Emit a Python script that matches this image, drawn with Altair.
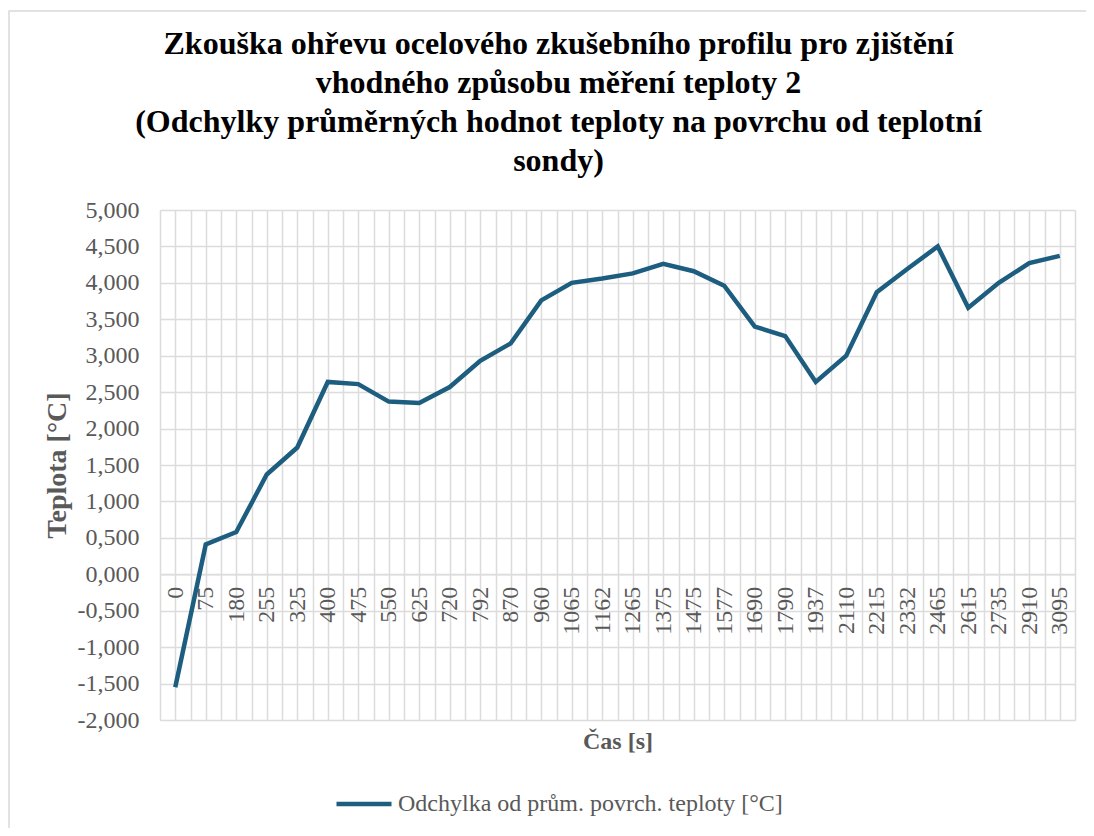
import json
import altair as alt
import pandas as pd

# ---- data ----
cas_labels = ["0", "75", "180", "255", "325", "400", "475", "550", "625", "720",
              "792", "870", "960", "1065", "1162", "1265", "1375", "1475", "1577", "1690",
              "1790", "1937", "2110", "2215", "2332", "2465", "2615", "2735", "2910", "3095"]
odchylka = [-1.55, 0.41, 0.58, 1.37, 1.74, 2.64, 2.61, 2.37, 2.35, 2.57,
            2.93, 3.17, 3.76, 4.00, 4.06, 4.13, 4.26, 4.16, 3.96, 3.40,
            3.27, 2.64, 3.00, 3.87, 4.19, 4.50, 3.66, 4.00, 4.27, 4.37]
series_name = "Odchylka od prům. povrch. teploty [°C]"
title_lines = ["Zkouška ohřevu ocelového zkušebního profilu pro zjištění",
               "vhodného způsobu měření teploty 2",
               "(Odchylky průměrných hodnot teploty na povrchu od teplotní",
               "sondy)"]
y_ticks = [v / 2 for v in range(-4, 11)]
x_grid = [i / 2 for i in range(-1, 2 * len(cas_labels))]

df = pd.DataFrame({
    "idx": list(range(len(cas_labels))),
    "cas": cas_labels,
    "teplota": odchylka,
    "serie": [series_name] * len(cas_labels),
})

FONT = "Liberation Serif"
GRAY = "#595959"
GRID = "#dcdcdc"
LINE = "#1d5d7f"

W, H = 915, 510
y_min, y_max = -2.0, 5.0
zero_offset = -H * (0 - y_min) / (y_max - y_min)

label_expr = ("datum.value % 1 == 0 ? " + json.dumps(cas_labels) +
              "[datum.value] : ''")
y_label_expr = ("(datum.value < 0 ? '-' : '') + "
                "replace(format(abs(datum.value), '.3f'), '.', ',')")

line = alt.Chart(df).mark_line(strokeWidth=4.5, strokeJoin="miter").encode(
    x=alt.X("idx:Q",
            scale=alt.Scale(domain=[-0.5, len(cas_labels) - 0.5], nice=False, zero=False),
            axis=alt.Axis(values=x_grid, labelExpr=label_expr, labelAngle=270,
                          labelFont=FONT, labelFontSize=24, labelColor=GRAY,
                          labelPadding=12, labelOverlap=False, labelFlush=False,
                          ticks=False, offset=zero_offset,
                          domainColor=GRID, domainWidth=1.5,
                          grid=True, gridColor=GRID, gridWidth=1.5,
                          title="Čas [s]", titleFont=FONT, titleFontSize=24,
                          titleFontWeight="bold", titleColor=GRAY,
                          titleBaseline="middle", titleY=-zero_offset + 21)),
    y=alt.Y("teplota:Q",
            scale=alt.Scale(domain=[y_min, y_max], nice=False, zero=False),
            axis=alt.Axis(values=y_ticks, labelExpr=y_label_expr,
                          labelFont=FONT, labelFontSize=24, labelColor=GRAY,
                          labelPadding=21, ticks=False, domain=False,
                          grid=True, gridColor=GRID, gridWidth=1.5,
                          title="Teplota [°C]", titleFont=FONT, titleFontSize=28,
                          titleFontWeight="bold", titleColor=GRAY,
                          titleX=-103, titleBaseline="middle")),
    color=alt.Color("serie:N", scale=alt.Scale(range=[LINE]),
                    legend=alt.Legend(title=None, orient="none", legendX=174, legendY=564,
                                      symbolType="stroke", symbolSize=3025,
                                      symbolStrokeWidth=4.5, labelFont=FONT,
                                      labelFontSize=24, labelColor=GRAY, labelLimit=0,
                                      labelOffset=4, padding=0)),
)

# light border of the chart area (decoration)
frame = alt.Chart(pd.DataFrame({"f": [0]})).mark_rect(
    filled=False, stroke="#d9d9d9", strokeWidth=1.5
).encode(
    x=alt.value(-151), x2=alt.value(960),
    y=alt.value(-199), y2=alt.value(660),
)

chart = alt.layer(frame, line).properties(
    width=W, height=H,
    title=alt.Title(title_lines, font=FONT, fontSize=32, fontWeight="bold",
                    color="black", anchor="middle", frame="group", dx=-59,
                    lineHeight=39, offset=-168),
    autosize=alt.AutoSizeParams(type="none"),
    padding={"left": 152, "top": 202, "right": 11, "bottom": 108},
).configure_view(
    fill="#f0f0f0", stroke=GRID, strokeWidth=1.5
).configure(background="white")

chart.save("out.html", embed_options={"renderer": "svg", "actions": False})
